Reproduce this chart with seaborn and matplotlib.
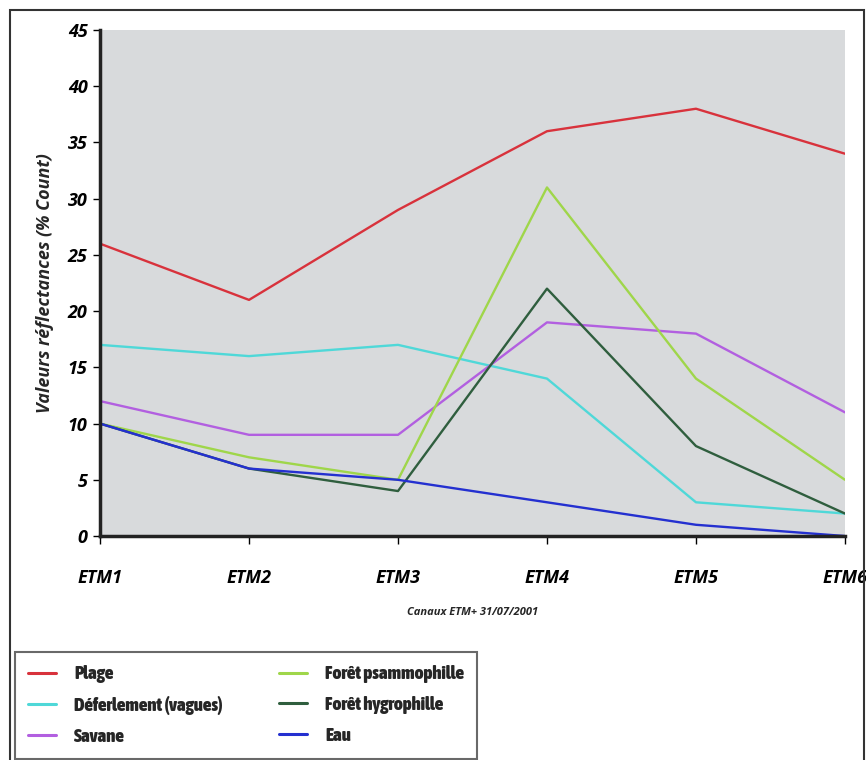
import numpy as np
import pandas as pd
import matplotlib
matplotlib.use("Agg")
import matplotlib.pyplot as plt
import seaborn as sns
from matplotlib.lines import Line2D
from matplotlib.patches import Rectangle
from matplotlib import font_manager
from matplotlib.font_manager import FontProperties

channels = ["ETM1", "ETM2", "ETM3", "ETM4", "ETM5", "ETM6"]
plage = [26, 21, 29, 36, 38, 34]
deferlement = [17, 16, 17, 14, 3, 2]
savane = [12, 9, 9, 19, 18, 11]
foret_psammo = [10, 7, 5, 31, 14, 5]
foret_hygro = [10, 6, 4, 22, 8, 2]
eau = [10, 6, 5, 3, 1, 0]

series_names = ["Plage", "Déferlement (vagues)", "Savane",
                "Forêt psammophille", "Forêt hygrophille", "Eau"]
series_values = [plage, deferlement, savane, foret_psammo, foret_hygro, eau]
colors = ["#d8323c", "#4fd8d8", "#b25fe0", "#9fd64a", "#2f5e3e", "#2430d0"]

rows = []
for name, vals in zip(series_names, series_values):
    for i, (ch, v) in enumerate(zip(channels, vals)):
        rows.append({"pos": i, "canal": ch, "serie": name, "val": v})
df = pd.DataFrame(rows)

sns.set_theme(style="white")
plt.rcParams['font.family'] = ['Open Sans', 'DejaVu Sans']


def _is_bold(w):
    if isinstance(w, (int, float)):
        return w >= 600
    return str(w).lower() in ("bold", "demibold", "semibold", "heavy", "extra bold", "black")


def _is_narrow(f):
    return ("Narrow" in f.name or "Condensed" in f.name or
            str(f.stretch).lower() in ("condensed", "semi-condensed", "extra-condensed")
            or (isinstance(f.stretch, (int, float)) and f.stretch < 500))


cands = [f for f in font_manager.fontManager.ttflist
         if _is_narrow(f) and _is_bold(f.weight) and f.style == "normal"]
cands.sort(key=lambda f: (0 if "Liberation" in f.name else 1, f.name))
if cands:
    legend_prop = FontProperties(fname=cands[0].fname, size=13.5)
    colsp = 3.0
else:
    legend_prop = FontProperties(family="Open Sans", weight="bold", size=11)
    colsp = 3.0

fig = plt.figure(figsize=(8.66, 7.6), dpi=100)
ax = fig.add_axes([0.1155, 0.2947, 0.8602, 0.6658])
ax.set_facecolor("#d8dadc")

sns.lineplot(data=df, x="pos", y="val", hue="serie", hue_order=series_names,
             palette=colors, linewidth=1.7, ax=ax, legend=False)

ax.set_xlim(0, 5)
ax.set_ylim(0, 45)
ax.set_xticks(range(len(channels)))
ax.set_xticklabels(channels, fontsize=13, fontweight="bold", fontstyle="italic")
ax.set_yticks(np.arange(0, 46, 5))
ax.set_yticklabels([str(v) for v in range(0, 46, 5)], fontsize=13,
                   fontweight="bold", fontstyle="italic")
ax.tick_params(axis="x", direction="out", length=6, width=1, pad=18, colors="black")
ax.tick_params(axis="y", direction="out", length=5, width=1, pad=4, colors="black")
ax.tick_params(axis="y", left=True)
ax.tick_params(axis="x", bottom=True)

for s in ["top", "right"]:
    ax.spines[s].set_visible(False)
ax.spines["left"].set_linewidth(2.5)
ax.spines["bottom"].set_linewidth(2.5)
ax.spines["left"].set_color("#222222")
ax.spines["bottom"].set_color("#222222")

ax.set_ylabel("Valeurs réflectances (% Count)", fontsize=13, fontweight="bold",
              fontstyle="italic", labelpad=10)
ax.set_xlabel("Canaux ETM+ 31/07/2001", fontsize=8, fontweight="bold",
              fontstyle="italic", labelpad=14)

# outer frame
fig.patches.append(Rectangle((10/866, -0.01), (864 - 10)/866, 1 - 10/760 + 0.01,
                             transform=fig.transFigure, fill=False,
                             edgecolor="#333333", linewidth=1.5))

handles = [Line2D([0], [0], color=c, linewidth=2.2) for c in colors]
leg = fig.legend(handles, series_names, loc="upper left",
                 bbox_to_anchor=(15/866, 1 - 652/760), ncol=2,
                 frameon=True, fancybox=False, edgecolor="#444444",
                 prop=legend_prop, borderaxespad=0,
                 handlelength=1.5, handletextpad=0.95, columnspacing=colsp,
                 labelspacing=0.68, borderpad=0.7)
leg.get_frame().set_linewidth(1.5)

fig.savefig("out.png", dpi=100, facecolor="white")
